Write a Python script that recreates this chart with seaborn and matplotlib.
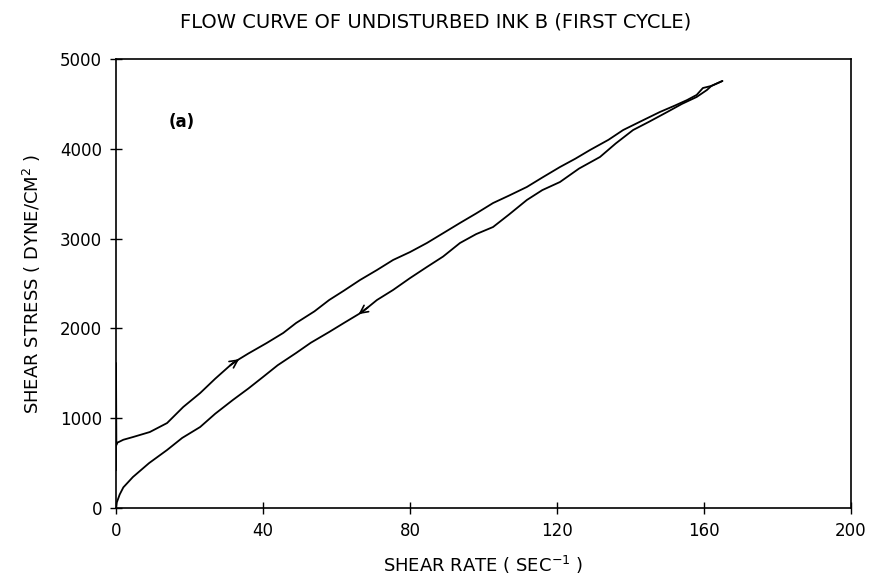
import numpy as np
import pandas as pd
import matplotlib
matplotlib.use("Agg")
import matplotlib.pyplot as plt
import seaborn as sns

# Data
up_rate = [0, 0, 0.1, 0.2, 2.0, 4.6, 9.2, 13.9, 18.3, 22.9, 27.0, 31.8, 36.0, 41.0, 45.5,
           49.0, 54.0, 58.0, 62.0, 66.4, 71.0, 75.4, 80.0, 84.6, 89.0, 93.6, 98.0,
           102.6, 107.0, 111.8, 116.0, 120.8, 125.0, 129.0, 134.0, 138.0, 143.0, 148.0,
           152.0, 155.4, 158.0, 159.7, 162.0, 165.0]
up_stress = [420, 1615, 700, 724, 760, 790, 846, 946, 1125, 1280, 1440, 1615, 1720, 1837, 1949,
             2060, 2190, 2316, 2420, 2539, 2650, 2762, 2850, 2951, 3060, 3174, 3280,
             3396, 3480, 3575, 3680, 3797, 3890, 3987, 4100, 4209, 4310, 4410,
             4480, 4543, 4600, 4677, 4700, 4755]

down_rate = [165.0, 162.0, 160.8, 158.0, 154.0, 150.0, 145.0, 140.7, 136.0, 131.7, 126.0,
             120.8, 116.0, 111.8, 107.0, 102.6, 98.0, 93.6, 89.0, 84.6, 80.0, 75.4, 71.0,
             67.0, 62.0, 58.0, 53.0, 49.0, 44.0, 40.0, 36.0, 31.8, 27.0, 22.9, 18.0,
             13.9, 9.0, 4.6, 2.0, 1.0, 0.2, 0.0]
down_stress = [4755, 4700, 4655, 4577, 4500, 4410, 4300, 4209, 4060, 3909, 3780,
               3630, 3540, 3430, 3270, 3129, 3050, 2951, 2800, 2684, 2560, 2428, 2316,
               2183, 2060, 1960, 1840, 1726, 1590, 1459, 1330, 1203, 1050, 902, 780,
               646, 500, 345, 230, 150, 60, 0]

x_ticks = [0, 40, 80, 120, 160, 200]
y_ticks = [0, 1000, 2000, 3000, 4000, 5000]

df = pd.concat([
    pd.DataFrame({"rate": up_rate, "stress": up_stress, "branch": "up"}),
    pd.DataFrame({"rate": down_rate, "stress": down_stress, "branch": "down"}),
], ignore_index=True)

sns.set_theme(style="white")
plt.rcParams['font.family'] = ['DejaVu Sans']
plt.rcParams.update({"text.color": "black", "axes.labelcolor": "black",
                     "xtick.color": "black", "ytick.color": "black"})

fig = plt.figure(figsize=(8.73, 5.85), dpi=100)
ax = fig.add_axes([116/873, 1 - 508/585, (851-116)/873, (508-59)/585])

sns.lineplot(data=df, x="rate", y="stress", units="branch", estimator=None,
             sort=False, color="black", lw=1.3, ax=ax)

ax.set_xlim(0, 200)
ax.set_ylim(0, 5000)
ax.set_xticks(x_ticks)
ax.set_yticks(y_ticks)
ax.set_xticklabels([str(v) for v in x_ticks], fontsize=12)
ax.set_yticklabels([str(v) for v in y_ticks], fontsize=12)
ax.tick_params(direction="inout", length=8, width=1, color="black", labelcolor="black",
               pad=6, bottom=True, left=True, top=False, right=False)
for s in ax.spines.values():
    s.set_visible(True)
    s.set_color("black")
    s.set_linewidth(1.2)

ax.set_xlabel("SHEAR RATE ( SEC$^{-1}$ )", fontsize=13, labelpad=10, color="black")
ax.set_ylabel("SHEAR STRESS ( DYNE/CM$^{2}$ )", fontsize=13, labelpad=12, color="black")

fig.text(436/873, 1 - 22/585, "FLOW CURVE OF UNDISTURBED INK B (FIRST CYCLE)",
         ha="center", va="center", fontsize=14, color="black")

ax.text(18, 4300, "(a)", fontsize=12, fontweight="bold", ha="center", va="center",
        color="black")

# direction arrows on the curves
def arrow_on(rx, sy, x0, x1):
    xs = np.array(rx, dtype=float)
    ys = np.array(sy, dtype=float)
    order = np.argsort(xs)
    y0 = np.interp(x0, xs[order], ys[order])
    y1 = np.interp(x1, xs[order], ys[order])
    ax.annotate("", xy=(x1, y1), xytext=(x0, y0),
                arrowprops=dict(arrowstyle="->", lw=1.2, color="black",
                                mutation_scale=14, shrinkA=0, shrinkB=0))

arrow_on(up_rate[3:], up_stress[3:], 31.0, 33.5)
arrow_on(down_rate, down_stress, 68.5, 66.0)

fig.savefig("out.png", dpi=100, facecolor="white")
